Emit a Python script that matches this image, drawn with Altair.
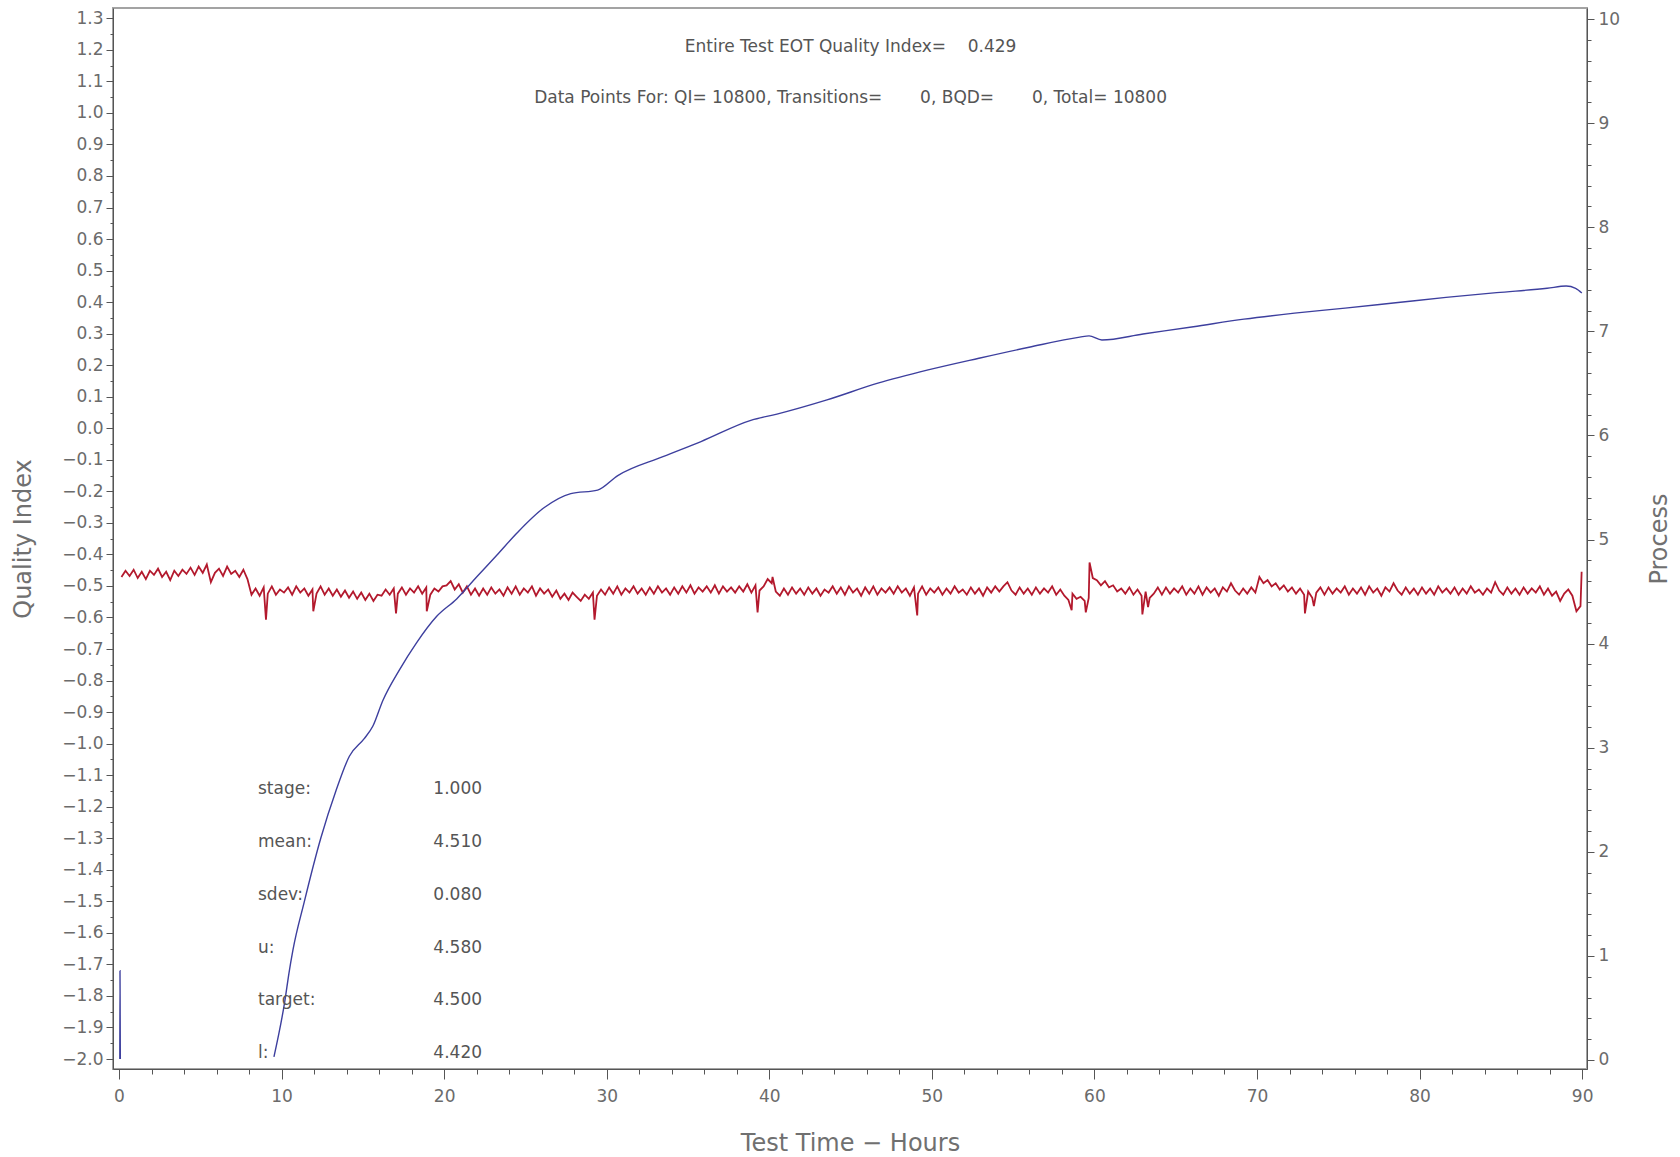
import altair as alt
import numpy as np
import pandas as pd

# ---------------- data ----------------
# Quality Index (left axis), blue
qi_start_hours = [0.05, 0.06, 0.07, 0.08]
qi_start_values = [-2.0, -1.72, -1.86, -2.0]

qi_hours = [9.53, 10.21, 10.45, 10.70, 11.38, 12.41, 13.34, 14.17, 15.07, 15.61,
            16.23, 17.26, 18.29, 19.53, 20.77, 22.01, 23.25, 24.48, 26.14, 27.79,
            29.44, 30.68, 33.46, 35.80, 38.91, 40.47, 43.55, 46.68, 49.77, 52.89,
            55.98, 59.10, 59.67, 60.46, 62.99, 66.09, 69.20, 72.31, 75.42, 78.53,
            81.63, 84.74, 87.85, 89.02, 89.60, 89.98]
qi_values = [-1.993, -1.813, -1.729, -1.654, -1.505, -1.300, -1.150, -1.040, -0.985, -0.945,
             -0.863, -0.765, -0.681, -0.597, -0.541, -0.471, -0.402, -0.332, -0.252, -0.207,
             -0.196, -0.150, -0.090, -0.042, 0.026, 0.045, 0.090, 0.143, 0.185, 0.222,
             0.257, 0.289, 0.293, 0.280, 0.299, 0.322, 0.346, 0.365, 0.381, 0.398,
             0.415, 0.430, 0.444, 0.451, 0.444, 0.429]

# Process (right axis), red: samples every 0.25 h starting at 0.15 h
process_start = 0.15
process_step = 0.25
process_values = [
    4.64, 4.70, 4.65, 4.71, 4.63, 4.69, 4.62, 4.70,
    4.66, 4.72, 4.64, 4.69, 4.61, 4.70, 4.65, 4.71,
    4.67, 4.73, 4.66, 4.74, 4.68, 4.76, 4.59, 4.68,
    4.72, 4.65, 4.74, 4.67, 4.70, 4.64, 4.71, 4.62,
    4.47, 4.53, 4.46, 4.54, 4.48, 4.55, 4.47, 4.52,
    4.49, 4.54, 4.47, 4.55, 4.49, 4.53, 4.46, 4.52,
    4.48, 4.55, 4.47, 4.53, 4.46, 4.52, 4.45, 4.51,
    4.44, 4.50, 4.43, 4.49, 4.42, 4.48, 4.41, 4.47,
    4.46, 4.52, 4.47, 4.53, 4.48, 4.54, 4.47, 4.53,
    4.49, 4.55, 4.48, 4.54, 4.47, 4.53, 4.50, 4.55,
    4.56, 4.60, 4.52, 4.57, 4.49, 4.55, 4.47, 4.53,
    4.46, 4.53, 4.47, 4.54, 4.48, 4.52, 4.46, 4.54,
    4.48, 4.55, 4.47, 4.53, 4.49, 4.55, 4.46, 4.53,
    4.48, 4.52, 4.45, 4.51, 4.43, 4.48, 4.42, 4.49,
    4.45, 4.41, 4.47, 4.43, 4.49, 4.46, 4.52, 4.47,
    4.54, 4.48, 4.55, 4.47, 4.53, 4.49, 4.55, 4.48,
    4.53, 4.47, 4.54, 4.48, 4.55, 4.49, 4.53, 4.47,
    4.54, 4.48, 4.55, 4.49, 4.56, 4.48, 4.54, 4.50,
    4.55, 4.49, 4.56, 4.48, 4.55, 4.50, 4.54, 4.49,
    4.55, 4.50, 4.57, 4.49, 4.56, 4.51, 4.55, 4.62,
    4.58, 4.50, 4.46, 4.53, 4.47, 4.54, 4.48, 4.53,
    4.47, 4.54, 4.48, 4.53, 4.46, 4.52, 4.49, 4.55,
    4.48, 4.54, 4.47, 4.55, 4.49, 4.53, 4.46, 4.54,
    4.48, 4.55, 4.47, 4.53, 4.49, 4.54, 4.48, 4.55,
    4.49, 4.53, 4.46, 4.54, 4.48, 4.55, 4.47, 4.53,
    4.49, 4.54, 4.47, 4.53, 4.48, 4.55, 4.49, 4.52,
    4.47, 4.54, 4.48, 4.53, 4.46, 4.54, 4.49, 4.55,
    4.50, 4.55, 4.59, 4.51, 4.47, 4.54, 4.48, 4.53,
    4.47, 4.54, 4.48, 4.53, 4.49, 4.55, 4.47, 4.52,
    4.46, 4.42, 4.48, 4.43, 4.45, 4.41, 4.44, 4.63,
    4.61, 4.56, 4.60, 4.54, 4.56, 4.50, 4.53, 4.48,
    4.54, 4.47, 4.52, 4.46, 4.50, 4.44, 4.48, 4.54,
    4.47, 4.54, 4.48, 4.53, 4.49, 4.55, 4.47, 4.53,
    4.48, 4.55, 4.47, 4.54, 4.49, 4.53, 4.46, 4.54,
    4.50, 4.58, 4.51, 4.47, 4.53, 4.48, 4.54, 4.49,
    4.64, 4.58, 4.61, 4.55, 4.58, 4.52, 4.56, 4.50,
    4.54, 4.48, 4.53, 4.47, 4.50, 4.44, 4.49, 4.54,
    4.47, 4.54, 4.48, 4.53, 4.49, 4.55, 4.47, 4.53,
    4.48, 4.54, 4.47, 4.55, 4.49, 4.53, 4.46, 4.54,
    4.50, 4.58, 4.51, 4.47, 4.54, 4.48, 4.53, 4.47,
    4.54, 4.48, 4.53, 4.47, 4.55, 4.49, 4.53, 4.48,
    4.54, 4.47, 4.53, 4.48, 4.55, 4.49, 4.52, 4.47,
    4.53, 4.49, 4.59, 4.51, 4.47, 4.54, 4.48, 4.53,
    4.47, 4.54, 4.48, 4.53, 4.49, 4.55, 4.47, 4.53,
    4.46, 4.50, 4.41, 4.48, 4.52, 4.46, 4.31, 4.36,
]
# narrow spikes between samples
spike_hours = [9.04, 11.95, 17.04, 18.93, 29.25, 39.28, 40.20, 49.10, 58.60,
               59.47, 59.70, 62.95, 63.30, 72.95, 73.50, 89.97]
spike_values = [4.23, 4.31, 4.29, 4.31, 4.23, 4.30, 4.64, 4.27, 4.32,
                4.30, 4.78, 4.28, 4.35, 4.29, 4.36, 4.69]

# annotation texts
NB = "\u00a0"
header_lines = [
    "Entire Test EOT Quality Index=" + NB * 4 + "0.429",
    "Data Points For: QI= 10800, Transitions=" + NB * 7 + "0, BQD=" + NB * 7 + "0, Total= 10800",
]
stat_labels = ["stage:", "mean:", "sdev:", "u:", "target:", "l:"]
stat_values = ["1.000", "4.510", "0.080", "4.580", "4.500", "4.420"]

# axis ticks
x_major = list(range(0, 91, 10))
x_minor = [v for v in range(0, 91, 2) if v % 10]
qi_major = [round(-2.0 + 0.1 * i, 1) for i in range(34)]
qi_minor = [round(-1.95 + 0.1 * i, 2) for i in range(33)]
pr_major = list(range(0, 11))
pr_minor = [round(0.2 * i, 1) for i in range(51) if i % 5]

# ---------------- tables ----------------
proc_hours = process_start + process_step * np.arange(len(process_values))
df_proc = pd.DataFrame({
    "hour": np.concatenate([proc_hours, spike_hours]),
    "process": np.concatenate([process_values, spike_values]),
}).sort_values("hour")

df_qi = pd.concat([
    pd.DataFrame({"hour": qi_start_hours, "qi": qi_start_values, "seg": "a"}),
    pd.DataFrame({"hour": qi_hours, "qi": qi_values, "seg": "b"}),
])

df_head = pd.DataFrame({"hx": [45.0, 45.0], "hy": [1.209, 1.047], "t": header_lines})
stat_rows = [2.607, 2.094, 1.589, 1.076, 0.580, 0.067]
df_stat = pd.DataFrame({"lx": 8.55, "vx": 22.33, "sy": stat_rows,
                        "lab": stat_labels, "val": stat_values})

# ---------------- styling ----------------
FONT = "DejaVu Sans"
LABEL_C = "#6b6b6b"
AXIS_C = "#555555"
RED = "#b3192d"
BLUE = "#3d3f9e"

x_scale = alt.Scale(domain=[-0.37, 90.3], nice=False, zero=False)
qi_scale = alt.Scale(domain=[-2.0317, 1.3327], nice=False, zero=False)
pr_scale = alt.Scale(domain=[-0.0865, 10.106], nice=False, zero=False)

common = dict(grid=False, labelFont=FONT, labelFontSize=17, labelColor=LABEL_C,
              tickColor=AXIS_C, domainColor=AXIS_C, labelOverlap=False,
              labelFlush=False, titleFont=FONT, titleFontSize=24,
              titleFontWeight="normal", titleColor="#707070")
minor = dict(grid=False, labels=False, domain=False, tickColor=AXIS_C, title=None)

red = alt.Chart(df_proc).mark_line(color=RED, strokeWidth=1.8, strokeJoin="miter").encode(
    x=alt.X("hour:Q", scale=x_scale,
            axis=alt.Axis(orient="bottom", values=x_major, format="d", tickSize=10,
                          labelPadding=9, title="Test Time \u2212 Hours",
                          titlePadding=27, **common)),
    y=alt.Y("process:Q", scale=pr_scale,
            axis=alt.Axis(orient="right", values=pr_major, format="d", tickSize=7,
                          labelPadding=4, title="Process", titleAngle=270,
                          titleBaseline="top", titlePadding=28, **common)),
)

blue = alt.Chart(df_qi).mark_line(color=BLUE, strokeWidth=1.4, interpolate="monotone").encode(
    x=alt.X("hour:Q", scale=x_scale,
            axis=alt.Axis(orient="bottom", values=x_minor, tickSize=5, **minor)),
    y=alt.Y("qi:Q", scale=qi_scale,
            axis=alt.Axis(orient="left", values=qi_major, format=".1f", tickSize=7,
                          labelPadding=3, title="Quality Index", titlePadding=26,
                          **common)),
    detail="seg:N",
)

head = alt.Chart(df_head).mark_text(font=FONT, fontSize=17, color="#555555",
                                    align="center", baseline="middle").encode(
    x=alt.X("hx:Q", scale=x_scale, axis=None),
    y=alt.Y("hy:Q", scale=qi_scale,
            axis=alt.Axis(orient="left", values=qi_minor, tickSize=3, **minor)),
    text="t:N",
)

stat_lab = alt.Chart(df_stat).mark_text(font=FONT, fontSize=17, color="#555555",
                                        align="left", baseline="middle").encode(
    x=alt.X("lx:Q", scale=x_scale, axis=None),
    y=alt.Y("sy:Q", scale=pr_scale,
            axis=alt.Axis(orient="right", values=pr_minor, tickSize=4, **minor)),
    text="lab:N",
)

stat_val = alt.Chart(df_stat).mark_text(font=FONT, fontSize=17, color="#555555",
                                        align="right", baseline="middle").encode(
    x=alt.X("vx:Q", scale=x_scale, axis=None),
    y=alt.Y("sy:Q", scale=pr_scale, axis=None),
    text="val:N",
)

chart = alt.layer(red, blue, head, stat_lab, stat_val).resolve_scale(
    x="independent", y="independent"
).properties(
    width=1474, height=1061,
    padding={"left": 113, "top": 8, "right": 93, "bottom": 88},
    autosize=alt.AutoSizeParams(type="none"),
    background="white",
).configure_view(stroke="#a3a3a3", strokeWidth=2)

chart.save("out.html", embed_options={"renderer": "svg", "actions": False})
